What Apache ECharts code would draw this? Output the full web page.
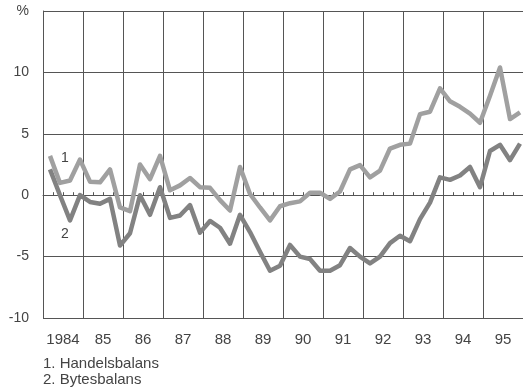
<!DOCTYPE html>
<html>
	<head>
		<meta charset="UTF-8">
		<title></title>
		<script src="https://cdn.jsdelivr.net/npm/echarts@6/dist/echarts.min.js"></script>
		<style>
			html, body { margin: 0; padding: 0; background: #fff; }
			#chart { width: 523px; height: 391px; }
		</style>
	</head>
	<body>
		<div id="chart"></div>
		<script>
			// år på x-axeln
			var years = ['1984', '85', '86', '87', '88', '89', '90', '91', '92', '93', '94', '95'];
			// kvartalsvärden 1984 Q1 - 1995 Q4, procent
			var handelsbalans = [
				3.2, 1.0, 1.2, 2.9,
				1.1, 1.05, 2.1, -1.0,
				-1.3, 2.5, 1.3, 3.2,
				0.4, 0.8, 1.4, 0.65,
				0.6, -0.4, -1.25, 2.3,
				0.1, -1.0, -2.05, -0.9,
				-0.65, -0.5, 0.2, 0.2,
				-0.3, 0.3, 2.1, 2.45,
				1.45, 2.0, 3.8, 4.1,
				4.2, 6.6, 6.8, 8.7,
				7.65, 7.2, 6.65, 5.9,
				8.1, 10.4, 6.2, 6.75
			];
			var bytesbalans = [
				2.1, 0.0, -2.05, 0.0,
				-0.55, -0.7, -0.3, -4.1,
				-3.1, 0.0, -1.6, 0.65,
				-1.85, -1.65, -0.8, -3.05,
				-2.1, -2.65, -3.95, -1.6,
				-3.0, -4.6, -6.15, -5.75,
				-4.05, -5.0, -5.2, -6.15,
				-6.15, -5.7, -4.3, -5.0,
				-5.55, -5.0, -3.9, -3.3,
				-3.75, -1.95, -0.6, 1.45,
				1.25, 1.6, 2.3, 0.65,
				3.6, 4.1, 2.85, 4.2
			];

			// kvartal -> tidpunkt på x-axeln
			function toPoints(arr) {
				var out = [];
				for (var i = 0; i < arr.length; i++) {
					out.push([1984 + (i + 0.7) / 4, arr[i]]);
				}
				return out;
			}

			var gridColor = '#555';
			var textColor = '#444';
			var font = 'Liberation Sans, Arial, sans-serif';

			var chart = echarts.init(document.getElementById('chart'));

			var option = {
				animation: false,
				grid: {
					left: 43,
					right: -3,
					top: 11,
					bottom: 73
				},
				xAxis: [{
					type: 'value',
					min: 1984,
					max: 1996,
					interval: 0.25,
					axisLine: { show: true, lineStyle: { color: gridColor, width: 1 } },
					axisTick: { show: true, inside: true, length: 3, lineStyle: { color: gridColor } },
					axisLabel: { show: false },
					splitLine: { show: false }
				}, {
					type: 'category',
					position: 'bottom',
					data: years,
					boundaryGap: true,
					axisLine: { show: false },
					axisTick: { show: false },
					axisLabel: { interval: 0, color: textColor, fontSize: 15, fontFamily: font, margin: 14 },
					splitLine: { show: true, interval: 0, lineStyle: { color: gridColor, width: 1 } }
				}],
				yAxis: {
					type: 'value',
					min: -10,
					max: 15,
					interval: 5,
					axisLine: { show: true, lineStyle: { color: gridColor, width: 1 } },
					axisTick: { show: false },
					axisLabel: {
						color: textColor,
						fontSize: 14,
						fontFamily: font,
						margin: 14,
						formatter: function (v) { return v === 15 ? '%' : v; }
					},
					splitLine: { show: true, lineStyle: { color: gridColor, width: 1 } }
				},
				series: [{
					name: 'Handelsbalans',
					type: 'line',
					xAxisIndex: 0,
					showSymbol: false,
					data: toPoints(handelsbalans),
					lineStyle: { color: '#a0a0a0', width: 4.5, join: 'round' }
				}, {
					name: 'Bytesbalans',
					type: 'line',
					xAxisIndex: 0,
					showSymbol: false,
					data: toPoints(bytesbalans),
					lineStyle: { color: '#828282', width: 4.5, join: 'round' }
				}],
				graphic: [
					{ type: 'text', left: 61, top: 151, style: { text: '1', fill: textColor, font: '14px ' + font } },
					{ type: 'text', left: 61, top: 227, style: { text: '2', fill: textColor, font: '14px ' + font } },
					{ type: 'text', left: 43, top: 356, style: { text: '1. Handelsbalans', fill: textColor, font: '15px ' + font } },
					{ type: 'text', left: 43, top: 372, style: { text: '2. Bytesbalans', fill: textColor, font: '15px ' + font } }
				]
			};

			chart.setOption(option);
		</script>
	</body>
</html>
